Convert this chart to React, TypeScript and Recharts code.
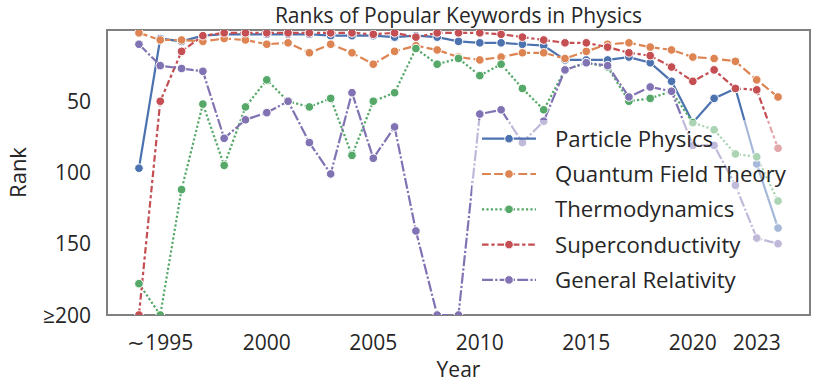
import React from 'react'
import { LineChart, Line, XAxis, YAxis, ReferenceArea } from 'recharts'

// ranks per year (>=200 drawn at 200)
const YEARS = [
  1994, 1995, 1996, 1997, 1998, 1999, 2000, 2001, 2002, 2003, 2004,
  2005, 2006, 2007, 2008, 2009, 2010, 2011, 2012, 2013, 2014,
  2015, 2016, 2017, 2018, 2019, 2020, 2021, 2022, 2023, 2024,
]
const PARTICLE_PHYSICS = [
  97, 6, 8, 4, 3, 3, 3, 3, 3, 4, 4,
  4, 5, 4, 5, 8, 9, 9, 10, 11, 21,
  21, 21, 19, 23, 36, 65, 48, 41, 94, 139,
]
const QUANTUM_FIELD_THEORY = [
  2, 7, 7, 8, 6, 7, 10, 9, 16, 10, 16,
  24, 15, 11, 14, 19, 21, 19, 16, 16, 20,
  15, 10, 9, 12, 14, 19, 20, 22, 35, 47,
]
const THERMODYNAMICS = [
  178, 200, 112, 52, 95, 54, 35, 50, 54, 48, 88,
  50, 44, 13, 24, 20, 32, 24, 41, 56, 28,
  23, 26, 50, 48, 43, 65, 70, 87, 89, 120,
]
const SUPERCONDUCTIVITY = [
  200, 50, 15, 4, 2, 2, 2, 2, 2, 2, 2,
  3, 2, 5, 2, 2, 2, 3, 5, 7, 9,
  9, 12, 16, 18, 26, 36, 28, 41, 42, 83,
]
const GENERAL_RELATIVITY = [
  10, 25, 27, 29, 76, 63, 58, 50, 79, 101, 44,
  90, 68, 141, 200, 200, 59, 56, 79, 64, 28,
  23, 25, 47, 40, 43, 81, 81, 109, 146, 150,
]

const X_TICKS = [1995, 2000, 2005, 2010, 2015, 2020, 2023]
const Y_TICKS = [50, 100, 150, 200]

const FONT = '"Open Sans", sans-serif'
const TEXT = '#262626'
const LW = 2.2

const series = [
  { key: 'particle', name: 'Particle Physics', color: '#4c72b0', dash: undefined, values: PARTICLE_PHYSICS },
  { key: 'qft', name: 'Quantum Field Theory', color: '#dd8452', dash: `${4 * LW} ${1.5 * LW}`, values: QUANTUM_FIELD_THEORY },
  { key: 'thermo', name: 'Thermodynamics', color: '#55a868', dash: `${1 * LW} ${1 * LW}`, values: THERMODYNAMICS },
  { key: 'super', name: 'Superconductivity', color: '#c44e52', dash: `${3 * LW} ${1.25 * LW} ${1.5 * LW} ${1.25 * LW}`, values: SUPERCONDUCTIVITY },
  { key: 'gr', name: 'General Relativity', color: '#8172b3', dash: `${5 * LW} ${1 * LW} ${1 * LW} ${1 * LW}`, values: GENERAL_RELATIVITY },
]

const data = YEARS.map((year, i) => {
  const row: Record<string, number> = { year }
  series.forEach(s => { row[s.key] = s.values[i] })
  return row
})

const XTick = ({ x, y, payload }: any) => (
  <text x={x} y={y + 35} textAnchor="middle" fill={TEXT} fontSize={21} fontFamily={FONT}>
    {payload.value === 1995 ? '\u223c1995' : payload.value}
  </text>
)

const YTick = ({ x, y, payload }: any) => (
  <text x={x - 16} y={y} dy="0.36em" textAnchor="end" fill={TEXT} fontSize={21} fontFamily={FONT}>
    {payload.value === 200 ? '\u2265200' : payload.value}
  </text>
)

function makeDot(color: string) {
  return (p: any) => (
    <circle key={p.index} cx={p.cx} cy={p.cy} r={4.3} fill={color} stroke="#fff" strokeWidth={1} />
  )
}

function LegendBox() {
  const left = 472
  const top = 120
  const rowH = 35.3
  return (
    <svg width={814} height={384} style={{ position: 'absolute', left: 0, top: 0, pointerEvents: 'none' }}>
      <text x={458.5} y={22.5} textAnchor="middle" fill={TEXT} fontSize={21} fontFamily={FONT}>
        Ranks of Popular Keywords in Physics
      </text>
      <rect x={left} y={top} width={330} height={183} rx={4} fill="#fff" fillOpacity={0.5} />
      {series.map((s, i) => {
        const cy = top + 18.7 + i * rowH
        return (
          <g key={s.key}>
            <line x1={482} x2={536} y1={cy} y2={cy} stroke={s.color} strokeWidth={LW} strokeDasharray={s.dash} />
            <circle cx={509} cy={cy} r={4.3} fill={s.color} stroke="#fff" strokeWidth={1} />
            <text x={555} y={cy} dy="0.36em" fill={TEXT} fontSize={22.2} fontFamily={FONT}>{s.name}</text>
          </g>
        )
      })}
    </svg>
  )
}

export default function App() {
  return (
    <div style={{ position: 'fixed', left: 0, top: 0, width: 814, height: 384, background: '#fff' }}>
      <LineChart width={814} height={384} data={data} margin={{ top: 30, right: 4, left: 0, bottom: 0 }}>
        <XAxis
          dataKey="year"
          type="number"
          domain={[1992.5, 2025.5]}
          ticks={X_TICKS}
          axisLine={false}
          tickLine={false}
          tickSize={0}
          tickMargin={0}
          height={69}
          tick={<XTick />}
          label={{
            content: () => (
              <text x={458.5} y={377} textAnchor="middle" fill={TEXT} fontSize={21} fontFamily={FONT}>Year</text>
            ),
          }}
        />
        <YAxis
          reversed
          type="number"
          domain={[0, 200]}
          allowDataOverflow
          ticks={Y_TICKS}
          axisLine={false}
          tickLine={false}
          tickSize={0}
          tickMargin={0}
          width={107}
          tick={<YTick />}
          label={{
            content: () => (
              <text x={18} y={172.5} transform="rotate(-90, 18, 172.5)" dy="0.36em" textAnchor="middle" fill={TEXT} fontSize={22} fontFamily={FONT}>Rank</text>
            ),
          }}
        />
        {series.map(s => (
          <Line
            key={s.key}
            dataKey={s.key}
            name={s.name}
            type="linear"
            stroke={s.color}
            strokeWidth={LW}
            strokeDasharray={s.dash}
            dot={makeDot(s.color)}
            activeDot={false}
            isAnimationActive={false}
          />
        ))}
        <ReferenceArea x1={1992.5} x2={2025.5} y1={0} y2={200} fill="none" stroke="#808080" strokeWidth={2} />
      </LineChart>
      <LegendBox />
    </div>
  )
}
